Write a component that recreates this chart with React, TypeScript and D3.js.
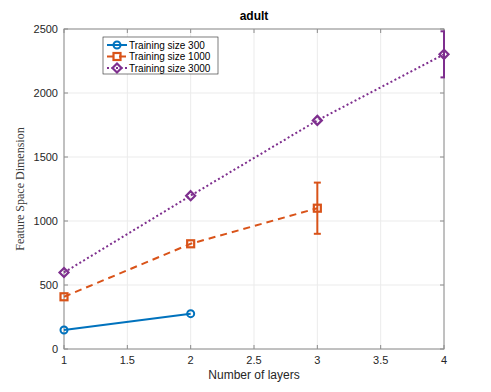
import { useEffect, useRef } from 'react'
import * as d3 from 'd3'

const title = 'adult'
const xLabel = 'Number of layers'
const yLabel = 'Feature Space Dimension'
const xTicks = [1, 1.5, 2, 2.5, 3, 3.5, 4]
const yTicks = [0, 500, 1000, 1500, 2000, 2500]

const layers300 = [1, 2]
const values300 = [148, 276]
const layers1000 = [1, 2, 3]
const values1000 = [408, 822, 1100]
const err1000 = [0, 0, 200]
const layers3000 = [1, 2, 3, 4]
const values3000 = [598, 1198, 1786, 2302]
const err3000 = [0, 0, 0, 180]

const seriesNames = ['Training size 300', 'Training size 1000', 'Training size 3000']
const seriesColors = ['#0072BD', '#D95319', '#7E2F8E']

type Pt = { x: number; y: number; e: number }

export default function App() {
  const svgRef = useRef<SVGSVGElement>(null)

  useEffect(() => {
    document.body.style.margin = '0'
    const width = 491
    const height = 392
    const margin = { top: 29, right: 47, bottom: 43, left: 64 }
    const innerW = width - margin.left - margin.right
    const innerH = height - margin.top - margin.bottom

    const svg = d3.select(svgRef.current)
    svg.selectAll('*').remove()
    svg.attr('width', width).attr('height', height)
    svg.append('rect').attr('width', width).attr('height', height).attr('fill', '#fff')

    const x = d3.scaleLinear().domain([1, 4]).range([0, innerW])
    const y = d3.scaleLinear().domain([0, 2500]).range([innerH, 0])

    svg.append('defs').append('clipPath').attr('id', 'plot-clip')
      .append('rect').attr('x', -1).attr('y', -10).attr('width', innerW + 2).attr('height', innerH + 20)

    const g = svg.append('g').attr('transform', `translate(${margin.left},${margin.top})`)
    const font = 'Liberation Sans, Arial, sans-serif'

    // grid
    g.append('g').selectAll('line').data(xTicks).join('line')
      .attr('x1', d => x(d)).attr('x2', d => x(d)).attr('y1', 0).attr('y2', innerH)
      .attr('stroke', '#ebebeb').attr('stroke-width', 1)
    g.append('g').selectAll('line').data(yTicks).join('line')
      .attr('x1', 0).attr('x2', innerW).attr('y1', d => y(d)).attr('y2', d => y(d))
      .attr('stroke', '#ebebeb').attr('stroke-width', 1)

    // box
    g.append('rect').attr('x', 0).attr('y', 0).attr('width', innerW).attr('height', innerH)
      .attr('fill', 'none').attr('stroke', '#8c8c8c').attr('stroke-width', 1)

    // ticks
    g.append('g').selectAll('line').data(xTicks).join('line')
      .attr('x1', d => x(d)).attr('x2', d => x(d)).attr('y1', innerH).attr('y2', innerH - 4)
      .attr('stroke', '#8c8c8c')
    g.append('g').selectAll('line').data(xTicks).join('line')
      .attr('x1', d => x(d)).attr('x2', d => x(d)).attr('y1', 0).attr('y2', 4)
      .attr('stroke', '#8c8c8c')
    g.append('g').selectAll('line').data(yTicks).join('line')
      .attr('x1', 0).attr('x2', 4).attr('y1', d => y(d)).attr('y2', d => y(d))
      .attr('stroke', '#8c8c8c')
    g.append('g').selectAll('line').data(yTicks).join('line')
      .attr('x1', innerW).attr('x2', innerW - 4).attr('y1', d => y(d)).attr('y2', d => y(d))
      .attr('stroke', '#8c8c8c')

    g.append('g').selectAll('text').data(xTicks).join('text')
      .attr('x', d => x(d)).attr('y', innerH + 15)
      .attr('text-anchor', 'middle').attr('font-family', font).attr('font-size', 11)
      .attr('fill', '#262626').text(d => String(d))
    g.append('g').selectAll('text').data(yTicks).join('text')
      .attr('x', -6).attr('y', d => y(d)).attr('dy', '0.35em')
      .attr('text-anchor', 'end').attr('font-family', font).attr('font-size', 11)
      .attr('fill', '#262626').text(d => String(d))

    g.append('text').attr('x', innerW / 2).attr('y', innerH + 30)
      .attr('text-anchor', 'middle').attr('font-family', font).attr('font-size', 12)
      .attr('fill', '#262626').text(xLabel)
    g.append('text').attr('transform', `translate(${-40},${innerH / 2}) rotate(-90)`)
      .attr('text-anchor', 'middle').attr('font-family', 'Liberation Serif, serif').attr('font-size', 12)
      .attr('fill', '#3a3a3a').text(yLabel)
    g.append('text').attr('x', innerW / 2).attr('y', -9)
      .attr('text-anchor', 'middle').attr('font-family', font).attr('font-size', 12)
      .attr('font-weight', 'bold').attr('fill', '#000').text(title)

    const toPts = (xs: number[], ys: number[], es?: number[]): Pt[] =>
      xs.map((v, i) => ({ x: v, y: ys[i], e: es ? es[i] : 0 }))
    const series = [
      { pts: toPts(layers300, values300), dash: null as string | null, marker: 'circle' },
      { pts: toPts(layers1000, values1000, err1000), dash: '7,5', marker: 'square' },
      { pts: toPts(layers3000, values3000, err3000), dash: '2,2.5', marker: 'diamond' },
    ]

    const line = d3.line<Pt>().x(d => x(d.x)).y(d => y(d.y))

    const drawMarker = (sel: any, kind: string, color: string, cx: number, cy: number) => {
      if (kind === 'circle') {
        sel.append('circle').attr('cx', cx).attr('cy', cy).attr('r', 3.5)
          .attr('fill', 'none').attr('stroke', color).attr('stroke-width', 2)
      } else if (kind === 'square') {
        sel.append('rect').attr('x', cx - 3.5).attr('y', cy - 3.5).attr('width', 7).attr('height', 7)
          .attr('fill', 'none').attr('stroke', color).attr('stroke-width', 2.2)
      } else {
        const r = 4.5
        sel.append('path').attr('d', `M${cx},${cy - r}L${cx + r},${cy}L${cx},${cy + r}L${cx - r},${cy}Z`)
          .attr('fill', 'none').attr('stroke', color).attr('stroke-width', 2.2)
      }
    }

    series.forEach((s, i) => {
      const color = seriesColors[i]
      const sg = g.append('g')
      sg.append('path').datum(s.pts).attr('d', line).attr('fill', 'none')
        .attr('stroke', color).attr('stroke-width', 2)
        .attr('stroke-dasharray', s.dash ?? null)
      const eg = sg.append('g').attr('clip-path', 'url(#plot-clip)')
      s.pts.filter(p => p.e > 0).forEach(p => {
        const px = x(p.x)
        eg.append('line').attr('x1', px).attr('x2', px).attr('y1', y(p.y - p.e)).attr('y2', y(p.y + p.e))
          .attr('stroke', color).attr('stroke-width', 2)
        ;[p.y - p.e, p.y + p.e].forEach(v => {
          eg.append('line').attr('x1', px - 3.5).attr('x2', px + 3.5).attr('y1', y(v)).attr('y2', y(v))
            .attr('stroke', color).attr('stroke-width', 2)
        })
      })
      s.pts.forEach(p => drawMarker(sg, s.marker, color, x(p.x), y(p.y)))
    })

    // legend
    const lg = svg.append('g').attr('transform', 'translate(103,37)')
    lg.append('rect').attr('width', 115).attr('height', 37).attr('fill', '#fff')
      .attr('stroke', '#262626').attr('stroke-width', 0.6)
    seriesNames.forEach((name, i) => {
      const ly = 8 + i * 11.5
      const color = seriesColors[i]
      const row = lg.append('g')
      row.append('line').attr('x1', 4).attr('x2', 24).attr('y1', ly).attr('y2', ly)
        .attr('stroke', color).attr('stroke-width', 2)
        .attr('stroke-dasharray', series[i].dash ?? null)
      drawMarker(row, series[i].marker, color, 14, ly)
      row.append('text').attr('x', 26).attr('y', ly).attr('dy', '0.35em')
        .attr('font-family', font).attr('font-size', 10).attr('fill', '#000').text(name)
    })
  }, [])

  return <svg ref={svgRef} style={{ display: 'block' }} />
}
